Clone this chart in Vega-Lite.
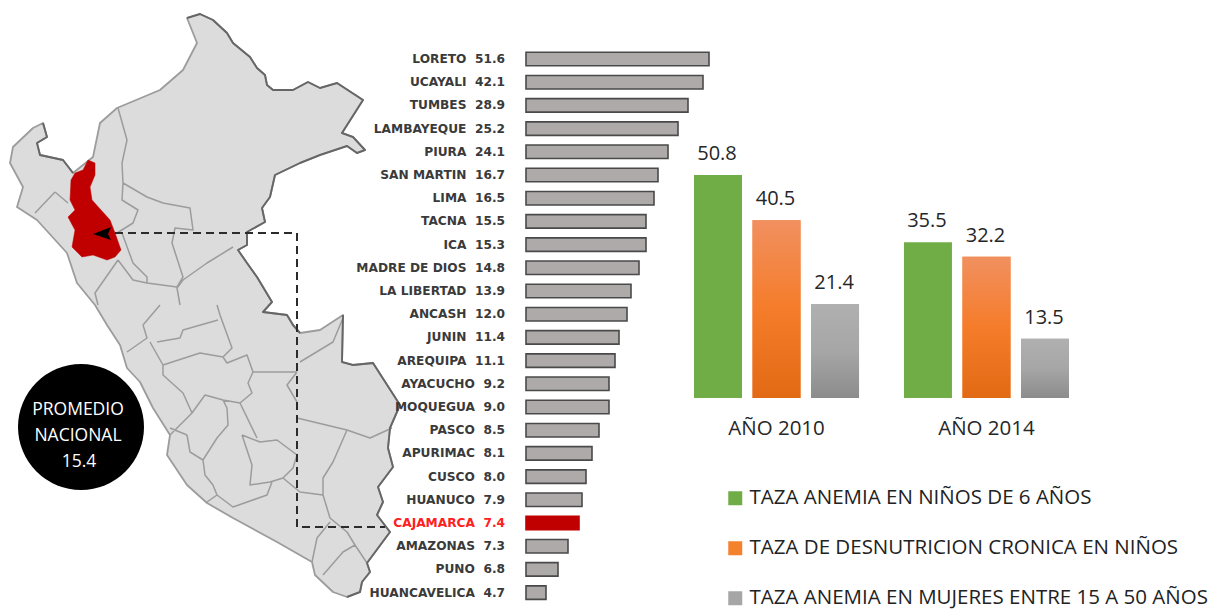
{
"$schema":"https://vega.github.io/schema/vega-lite/v6.json",
"width":1215,"height":610,"autosize":"none","padding":0,"background":"white",
"config":{"view":{"stroke":null}},
"resolve":{"scale":{"x":"independent","y":"independent"}},
"layer":[
{"projection":{"type":"identity","scale":10,"translate":[1000,0],"reflectY":true},
 "layer":[
 {"data":{"values":[{"type":"Feature","properties":{"nombre":"PERU"},"geometry":{"type":"Polygon","coordinates":[[[-81.3,-1.8],[-80,-1.4],[-78.7,-2],[-77.3,-3.3],[-76.7,-4.3],[-75,-5.7],[-74.3,-6.8],[-73.5,-7.5],[-73.3,-8.5],[-72.7,-9],[-70.7,-9],[-69.2,-8.2],[-68,-8.8],[-66.3,-8.3],[-63.7,-10],[-65.8,-13.3],[-64.7,-13.7],[-63.5,-15],[-64.3,-15.3],[-65.3,-14.6],[-68,-15.5],[-70,-16.3],[-72.5,-17.5],[-73,-19.7],[-73.8,-20.8],[-73.5,-22.2],[-75.3,-23.2],[-75.3,-24.5],[-76.2,-25],[-75.3,-26.3],[-74.3,-27.7],[-72.8,-30.2],[-73.7,-31.2],[-71.3,-31.5],[-70.7,-32.5],[-70,-33.3],[-68,-33],[-65.7,-31.5],[-65.8,-36.2],[-64.7,-36.5],[-62.7,-36.3],[-60,-40.5],[-61,-42.8],[-61.2,-44.8],[-60.7,-46.7],[-62.2,-48.7],[-61.7,-50.2],[-62.3,-51.5],[-61,-53.2],[-63.3,-56.3],[-63,-57.2],[-63.8,-58.2],[-64,-59.2],[-65.3,-59.7],[-66.7,-59.2],[-68.5,-57.5],[-68.8,-56.2],[-72.3,-54.2],[-76.7,-51.8],[-79.3,-50.3],[-81.3,-48.5],[-83.3,-45.5],[-83,-43.5],[-84.7,-40.8],[-86,-38.2],[-87.3,-36.8],[-88,-34.5],[-89.3,-32.5],[-90.5,-30.5],[-92.3,-28.3],[-93.3,-25.3],[-96.3,-22],[-98.3,-20.7],[-97.7,-18.7],[-99,-16.3],[-98.7,-14.7],[-96.7,-12.8],[-95.7,-12.3],[-95.3,-13.7],[-96.3,-14.3],[-96,-15.5],[-93.7,-16],[-92.7,-17.3],[-90.7,-15.7],[-90,-12.3],[-88.3,-10.8],[-84,-9],[-81.7,-7],[-80.3,-4.3],[-81.3,-1.8]]]}}]},
  "mark":{"type":"geoshape","fill":"#dcdcdc","stroke":"#9c9c9c","strokeWidth":1.8,"strokeJoin":"round"}},
 {"data":{"values":[{"type":"Feature","properties":{"nombre":"DEPARTAMENTOS"},"geometry":{"type":"MultiLineString","coordinates":[
  [[-88.2,-10.8],[-87.3,-14],[-87.8,-16.3],[-87.7,-18.3],[-85.3,-19.7],[-83.7,-20.3],[-81,-20.8],[-80.7,-23],[-82.5,-22.8],[-82.8,-24.3],[-81.7,-27.7],[-82.3,-28.7]],
  [[-87.7,-18.3],[-87.8,-20],[-86.2,-21],[-86.7,-22.3],[-88.3,-23.3]],
  [[-76.7,-24.7],[-79.3,-26.3],[-81.7,-28],[-82.3,-28.8],[-82,-30.5]],
  [[-94.5,-19.2],[-96.5,-21.3]],[[-94.5,-19.2],[-93.2,-20.3]],
  [[-88.2,-26],[-90.5,-29.3],[-90.2,-30.5]],[[-88.2,-26],[-86.7,-28],[-85.3,-28.3],[-82.3,-28.7]],[[-87.8,-23.3],[-86.7,-26.3],[-85.3,-27.7],[-85.3,-28.3]],
  [[-85.7,-32.5],[-85.3,-33.8],[-87.3,-35.2]],[[-85.7,-32.5],[-84,-30.5]],
  [[-85,-34.2],[-83.7,-36.5],[-80,-35.3],[-77.7,-35.7],[-76.8,-34.8],[-78,-31.5],[-78.3,-30.5]],
  [[-84.3,-34.2],[-82,-33.8],[-81.7,-33],[-78.2,-32]],
  [[-83.7,-36.5],[-83.7,-37.5],[-81.7,-39.3],[-80.8,-41.3],[-83,-43.5]],
  [[-77.7,-35.7],[-77.3,-36.3],[-75.3,-35.5],[-74.7,-37.2],[-75.2,-38.3],[-74.8,-39.3],[-76,-40.3],[-77.7,-40],[-79.5,-39.5],[-80.8,-41.3]],
  [[-74.7,-37.2],[-72.7,-37.2],[-70.3,-37.2]],
  [[-70,-36.2],[-66.7,-34.2],[-65.7,-31.8]],
  [[-76,-40.3],[-74.3,-43.8]],
  [[-75.8,-43.5],[-74,-44.2],[-72.3,-44],[-70.3,-45.5],[-70.7,-46.8],[-71.7,-47.8],[-73,-48.2],[-75,-48.5],[-74.8,-46.5],[-75.8,-43.5]],
  [[-81.3,-43.5],[-81,-45.2],[-79.7,-46],[-78.3,-43.8],[-77.2,-42.5],[-77.3,-40.8],[-77.7,-40]],
  [[-81.3,-43.5],[-83,-42.8]],
  [[-79.7,-46],[-79.5,-47.5],[-78.7,-48.5],[-78.3,-49.5],[-79.3,-50.2]],
  [[-78.3,-49.5],[-76.7,-50.7],[-73.3,-49.5],[-72.8,-48.2]],
  [[-71.7,-47.8],[-70,-49.2],[-67.7,-49.5],[-67,-51.8],[-65.3,-53.2],[-64.5,-54.5],[-65.7,-55.2],[-67.7,-57.5]],
  [[-67,-52.2],[-68.3,-53.8],[-68.8,-56.2]],
  [[-64.5,-54.5],[-63.3,-56.3]],
  [[-70.3,-41.8],[-65.3,-43],[-63,-43.8],[-60.8,-42.8]],
  [[-65.3,-43],[-66.7,-46.2],[-67.7,-47.8],[-67.7,-49.5]],
  [[-70.3,-37.2],[-71.3,-38.5],[-70.3,-40.2]]
 ]}}]},
  "mark":{"type":"geoshape","filled":false,"stroke":"#9c9c9c","strokeWidth":1.5,"strokeJoin":"round"}},
 {"data":{"values":[{"type":"Feature","properties":{"nombre":"FRONTERA"},"geometry":{"type":"MultiLineString","coordinates":[
  [[-81.3,-1.8],[-80,-1.4],[-78.7,-2],[-77.3,-3.3],[-76.7,-4.3],[-75,-5.7],[-74.3,-6.8],[-73.5,-7.5],[-73.3,-8.5],[-72.7,-9],[-70.7,-9],[-69.2,-8.2],[-68,-8.8],[-66.3,-8.3],[-63.7,-10],[-65.8,-13.3],[-64.7,-13.7],[-63.5,-15],[-64.3,-15.3],[-65.3,-14.6],[-68,-15.5],[-70,-16.3],[-72.5,-17.5],[-73,-19.7],[-73.8,-20.8],[-73.5,-22.2],[-75.3,-23.2],[-75.3,-24.5],[-76.2,-25],[-75.3,-26.3],[-74.3,-27.7],[-72.8,-30.2],[-73.7,-31.2],[-71.3,-31.5],[-70.7,-32.5],[-70,-33.3]],
  [[-65.7,-31.5],[-65.8,-36.2],[-64.7,-36.5],[-62.7,-36.3],[-60,-40.5],[-61,-42.8],[-61.2,-44.8],[-60.7,-46.7],[-62.2,-48.7],[-61.7,-50.2],[-62.3,-51.5],[-61,-53.2],[-63.3,-56.3],[-63,-57.2],[-63.8,-58.2],[-64,-59.2],[-65.3,-59.7]],
  [[-95.7,-12.3],[-95.3,-13.7],[-96.3,-14.3],[-96,-15.5],[-93.7,-16],[-92.7,-17.3]]
 ]}}]},
  "mark":{"type":"geoshape","filled":false,"stroke":"#666666","strokeWidth":1.9,"strokeJoin":"round"}},
 {"data":{"values":[{"type":"Feature","properties":{"nombre":"CAJAMARCA"},"geometry":{"type":"Polygon","coordinates":[[[-91.2,-16],[-90.5,-16.3],[-90.5,-17.5],[-91,-18.7],[-90.8,-20],[-89,-22],[-88.5,-23.3],[-87.9,-25],[-88.5,-25.7],[-89.3,-26],[-90.7,-25.5],[-91.8,-25.7],[-92.8,-24.7],[-92.5,-23],[-93.2,-21.7],[-92.5,-21],[-93,-20],[-92.9,-18],[-92.5,-17.3],[-91.7,-17],[-91.2,-16]]]}}]},
  "mark":{"type":"geoshape","fill":"#c00000","stroke":"#c00000","strokeWidth":0.5}},
 {"data":{"values":[{"type":"Feature","properties":{"nombre":"GUIA"},"geometry":{"type":"LineString","coordinates":[[-88.5,-23.3],[-70.3,-23.3],[-70.3,-52.7],[-61.5,-52.7]]}}]},
  "mark":{"type":"geoshape","filled":false,"stroke":"#2b2b2b","strokeWidth":2,"strokeDash":[8,5]}},
 {"data":{"values":[{"type":"Feature","properties":{"nombre":"PUNTA"},"geometry":{"type":"Polygon","coordinates":[[[-90.7,-23.4],[-88.9,-22.7],[-89.2,-23.4],[-88.9,-24],[-90.7,-23.4]]]}}]},
  "mark":{"type":"geoshape","fill":"#000000","stroke":null}},
 {"data":{"values":[{"lon":-91.9,"lat":-42.7}]},
  "mark":{"type":"point","filled":true,"fill":"#000000","opacity":1,"size":15876,"shape":"circle"},
  "encoding":{"longitude":{"field":"lon","type":"quantitative"},"latitude":{"field":"lat","type":"quantitative"}}},
 {"data":{"values":[{"linea":"PROMEDIO","lon":-92.2,"lat":-41.5},{"linea":"NACIONAL","lon":-92.2,"lat":-44.1},{"linea":"15.4","lon":-92.1,"lat":-46.7}]},
  "mark":{"type":"text","font":"Open Sans","fontSize":17.5,"color":"#ffffff","align":"center","baseline":"alphabetic"},
  "encoding":{"longitude":{"field":"lon","type":"quantitative"},"latitude":{"field":"lat","type":"quantitative"},"text":{"field":"linea"}}}
 ]},
{"data":{"values":[
 {"region":"LORETO","tasa":51.6,"largo":183},{"region":"UCAYALI","tasa":42.1,"largo":177},{"region":"TUMBES","tasa":28.9,"largo":162},{"region":"LAMBAYEQUE","tasa":25.2,"largo":152},{"region":"PIURA","tasa":24.1,"largo":142},{"region":"SAN MARTIN","tasa":16.7,"largo":132},{"region":"LIMA","tasa":16.5,"largo":128},{"region":"TACNA","tasa":15.5,"largo":120},{"region":"ICA","tasa":15.3,"largo":120},{"region":"MADRE DE DIOS","tasa":14.8,"largo":113},{"region":"LA LIBERTAD","tasa":13.9,"largo":105},{"region":"ANCASH","tasa":12.0,"largo":101},{"region":"JUNIN","tasa":11.4,"largo":93},{"region":"AREQUIPA","tasa":11.1,"largo":89},{"region":"AYACUCHO","tasa":9.2,"largo":83},{"region":"MOQUEGUA","tasa":9.0,"largo":83},{"region":"PASCO","tasa":8.5,"largo":73},{"region":"APURIMAC","tasa":8.1,"largo":66},{"region":"CUSCO","tasa":8.0,"largo":60},{"region":"HUANUCO","tasa":7.9,"largo":56},{"region":"CAJAMARCA","tasa":7.4,"largo":53},{"region":"AMAZONAS","tasa":7.3,"largo":42},{"region":"PUNO","tasa":6.8,"largo":32},{"region":"HUANCAVELICA","tasa":4.7,"largo":20}
 ]},
 "transform":[{"calculate":"datum.region + '\u00a0\u00a0' + format(datum.tasa,'.1f')","as":"etiqueta"}],
 "encoding":{"y":{"field":"region","type":"nominal","sort":null,"axis":null,"scale":{"range":[47.4,604.2],"paddingInner":0.42,"paddingOuter":0.21}}},
 "layer":[
 {"mark":{"type":"bar","strokeWidth":1.6},
  "encoding":{"x":{"field":"largo","type":"quantitative","axis":null,"scale":{"domain":[0,183],"range":[526,709]}},
   "fill":{"condition":{"test":"datum.region==='CAJAMARCA'","value":"#c00000"},"value":"#aeaaaa"},
   "stroke":{"condition":{"test":"datum.region==='CAJAMARCA'","value":"#c00000"},"value":"#4a4a4a"}}},
 {"mark":{"type":"text","font":"DejaVu Sans","fontWeight":"bold","fontSize":12.2,"align":"right","baseline":"middle","dx":-21},
  "encoding":{"x":{"datum":0,"type":"quantitative","axis":null,"scale":{"domain":[0,183],"range":[526,709]}},
   "text":{"field":"etiqueta"},
   "color":{"condition":{"test":"datum.region==='CAJAMARCA'","value":"#ff2020"},"value":"#3a3a3a"}}}
 ]},
{"data":{"values":[
 {"anio":"AÑO 2010","serie":"TAZA ANEMIA EN NIÑOS DE 6 AÑOS","tasa":50.8},
 {"anio":"AÑO 2010","serie":"TAZA DE DESNUTRICION CRONICA EN NIÑOS","tasa":40.5},
 {"anio":"AÑO 2010","serie":"TAZA ANEMIA EN MUJERES ENTRE 15 A 50 AÑOS","tasa":21.4},
 {"anio":"AÑO 2014","serie":"TAZA ANEMIA EN NIÑOS DE 6 AÑOS","tasa":35.5},
 {"anio":"AÑO 2014","serie":"TAZA DE DESNUTRICION CRONICA EN NIÑOS","tasa":32.2},
 {"anio":"AÑO 2014","serie":"TAZA ANEMIA EN MUJERES ENTRE 15 A 50 AÑOS","tasa":13.5}
 ]},
 "encoding":{
  "x":{"field":"anio","type":"nominal","axis":null,"scale":{"range":[694,1069],"paddingInner":0.214,"paddingOuter":0}},
  "y":{"field":"tasa","type":"quantitative","axis":null,"scale":{"domain":[0,50.8],"range":[398,175]}}
 },
 "layer":[
 {"mark":{"type":"bar"},
  "encoding":{
   "xOffset":{"field":"serie","type":"nominal","sort":null,"scale":{"domain":["TAZA ANEMIA EN NIÑOS DE 6 AÑOS","TAZA DE DESNUTRICION CRONICA EN NIÑOS","TAZA ANEMIA EN MUJERES ENTRE 15 A 50 AÑOS"],"paddingInner":0.18,"paddingOuter":0}},
   "color":{"field":"serie","type":"nominal","sort":null,
    "scale":{"domain":["TAZA ANEMIA EN NIÑOS DE 6 AÑOS","TAZA DE DESNUTRICION CRONICA EN NIÑOS","TAZA ANEMIA EN MUJERES ENTRE 15 A 50 AÑOS"],"range":["#70ad47","#f4812c","#a6a6a6"]},
    "legend":{"orient":"none","legendX":725,"legendY":488,"title":null,"symbolType":"square","symbolSize":196,"symbolOpacity":1,"symbolStrokeWidth":0,"labelFont":"Open Sans","labelFontSize":20.5,"labelColor":"#222222","labelLimit":600,"labelOffset":4,"rowPadding":29,"padding":0}}}},
 {"transform":[{"filter":"datum.serie==='TAZA DE DESNUTRICION CRONICA EN NIÑOS'"}],
  "mark":{"type":"bar","fill":{"gradient":"linear","x1":0,"y1":0,"x2":0,"y2":1,"stops":[{"offset":0,"color":"#f19060"},{"offset":0.5,"color":"#f57c2a"},{"offset":1,"color":"#e26a14"}]}},
  "encoding":{"xOffset":{"field":"serie","type":"nominal","sort":null,"scale":{"domain":["TAZA ANEMIA EN NIÑOS DE 6 AÑOS","TAZA DE DESNUTRICION CRONICA EN NIÑOS","TAZA ANEMIA EN MUJERES ENTRE 15 A 50 AÑOS"],"paddingInner":0.18,"paddingOuter":0}}}},
 {"transform":[{"filter":"datum.serie==='TAZA ANEMIA EN MUJERES ENTRE 15 A 50 AÑOS'"}],
  "mark":{"type":"bar","fill":{"gradient":"linear","x1":0,"y1":0,"x2":0,"y2":1,"stops":[{"offset":0,"color":"#b0b0b0"},{"offset":0.5,"color":"#a6a6a6"},{"offset":1,"color":"#8c8c8c"}]}},
  "encoding":{"xOffset":{"field":"serie","type":"nominal","sort":null,"scale":{"domain":["TAZA ANEMIA EN NIÑOS DE 6 AÑOS","TAZA DE DESNUTRICION CRONICA EN NIÑOS","TAZA ANEMIA EN MUJERES ENTRE 15 A 50 AÑOS"],"paddingInner":0.18,"paddingOuter":0}}}},
 {"mark":{"type":"text","font":"Open Sans","fontSize":20,"color":"#262626","baseline":"alphabetic","dy":-15,"dx":-1},
  "encoding":{"xOffset":{"field":"serie","type":"nominal","sort":null,"scale":{"domain":["TAZA ANEMIA EN NIÑOS DE 6 AÑOS","TAZA DE DESNUTRICION CRONICA EN NIÑOS","TAZA ANEMIA EN MUJERES ENTRE 15 A 50 AÑOS"],"paddingInner":0.18,"paddingOuter":0}},
   "text":{"field":"tasa","type":"quantitative","format":".1f"}}},
 {"transform":[{"filter":"datum.serie==='TAZA ANEMIA EN NIÑOS DE 6 AÑOS'"}],
  "mark":{"type":"text","font":"Open Sans","fontSize":20.5,"color":"#262626","baseline":"alphabetic","dy":37},
  "encoding":{"y":{"datum":0,"type":"quantitative"},"text":{"field":"anio"}}}
 ]}
]}
